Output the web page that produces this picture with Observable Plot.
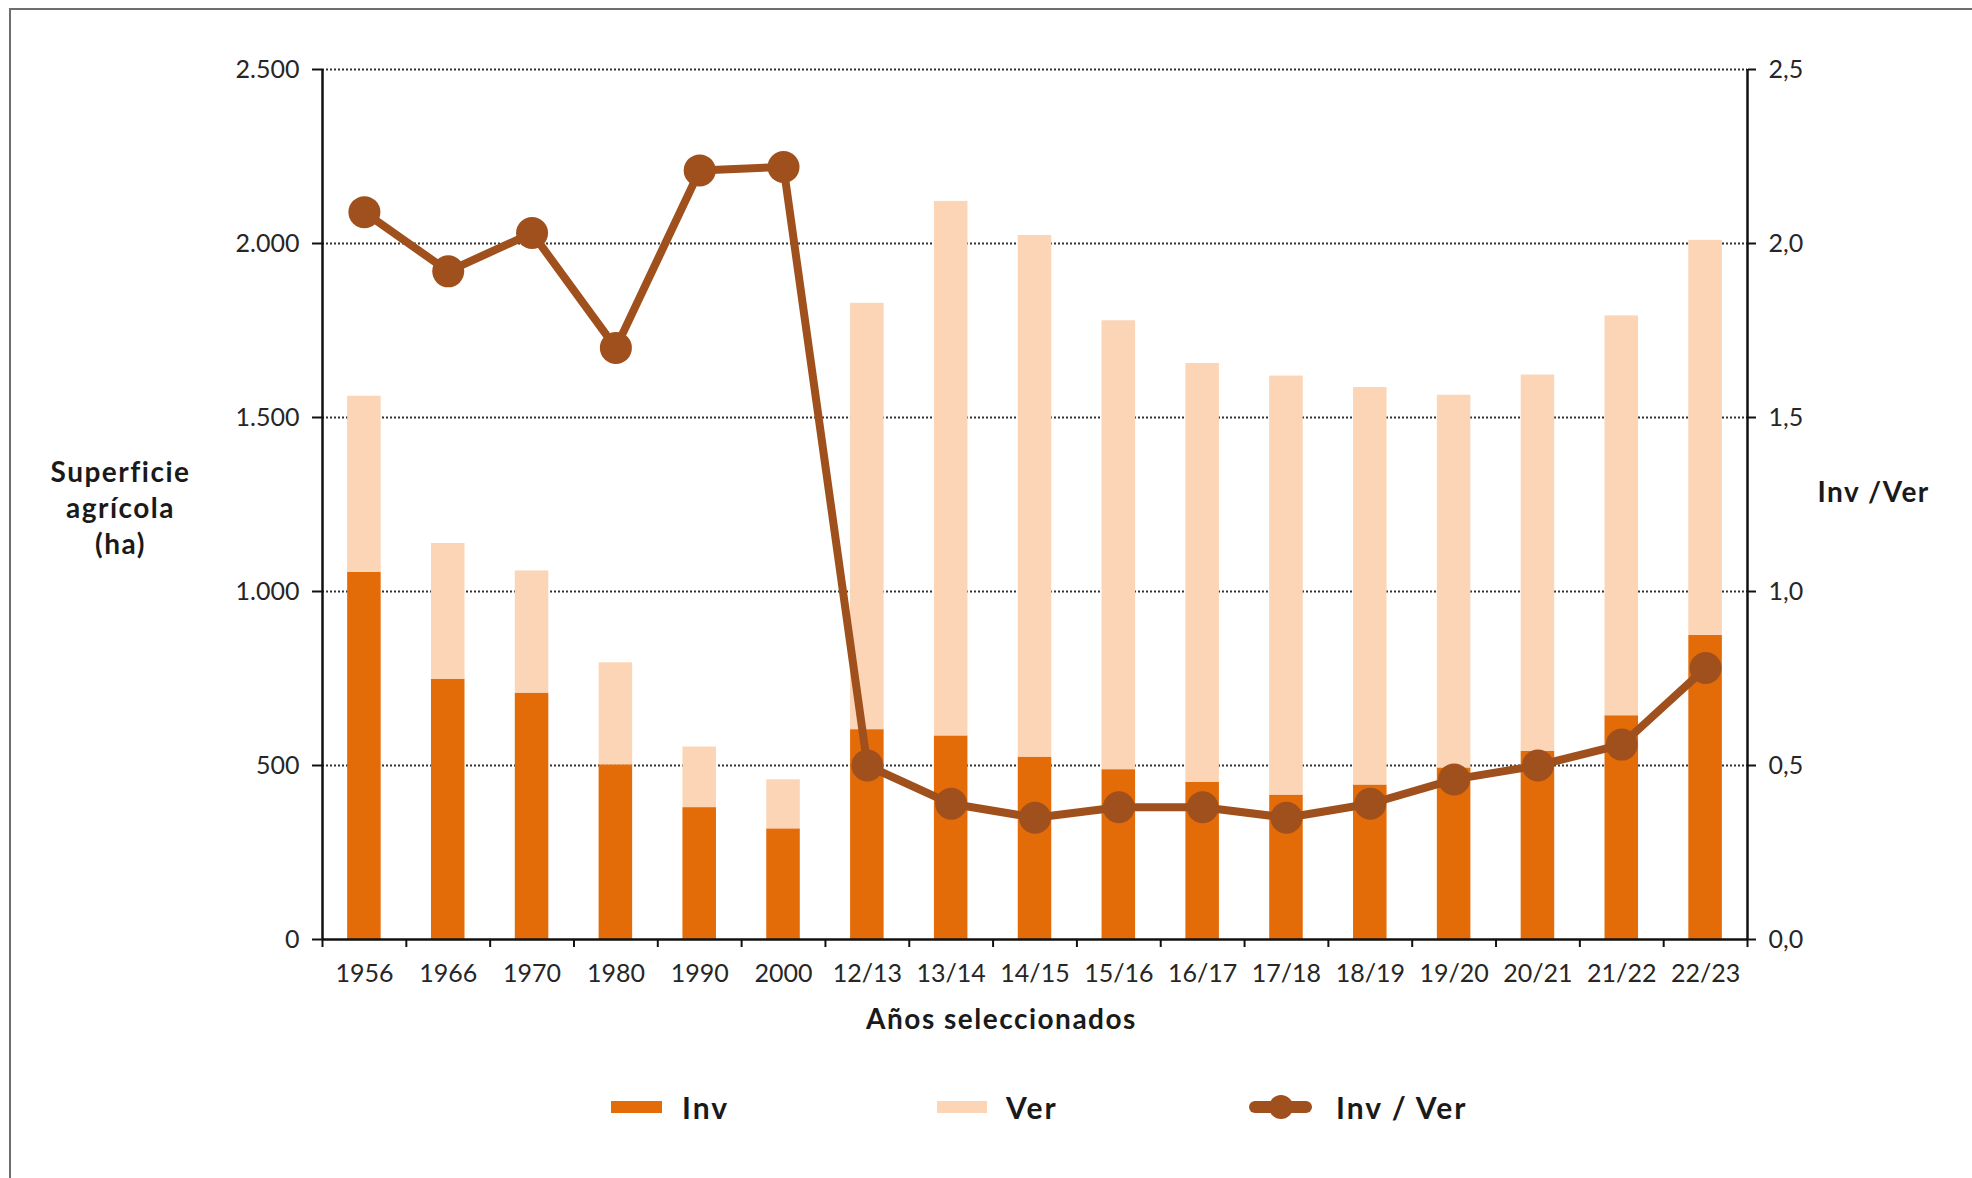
<!DOCTYPE html>
<html>
<head>
<meta charset="utf-8">
<script src="https://cdn.jsdelivr.net/npm/d3@7"></script>
<script src="https://cdn.jsdelivr.net/npm/@observablehq/plot@0.6"></script>
<style>
  html, body { margin: 0; padding: 0; background: #ffffff; }
  #wrap { position: relative; width: 1972px; height: 1178px; overflow: hidden; background: #fff; }
  #border { position: absolute; left: 9px; top: 8px; width: 3000px; height: 3000px;
            border-left: 2px solid #6e6e6e; border-top: 2px solid #6e6e6e; pointer-events: none; }
  #chart svg { display: block; }
  #chart g[aria-label="text"] text { letter-spacing: 1.5px; }
  #legend { position: relative; width: 1972px; height: 108px; font-family: Lato, "Open Sans", sans-serif;
            font-weight: bold; font-size: 30px; letter-spacing: 2px; color: #1a1a1a; }
  .item { position: absolute; top: 19px; height: 36px; line-height: 36px; display: flex; align-items: center; }
  .sw { display: inline-block; height: 12px; }
  .lsw { position: relative; display: inline-block; width: 63px; height: 36px; }
  .lsw .ln { position: absolute; left: 0; right: 0; top: 12px; height: 12px; border-radius: 6px; }
  .lsw .dt { position: absolute; left: 20px; top: 6px; width: 24px; height: 24px; border-radius: 50%; }
</style>
</head>
<body>
<div id="wrap">
  <div id="chart"></div>
  <div id="legend"></div>
  <div id="border"></div>
</div>
<script>
// ---- Data ----
const categories = ["1956","1966","1970","1980","1990","2000","12/13","13/14","14/15","15/16","16/17","17/18","18/19","19/20","20/21","21/22","22/23"];
const invValues = [1055, 748, 708, 502, 379, 318, 603, 585, 524, 488, 452, 415, 444, 493, 541, 643, 874];
const verValues = [506, 390, 351, 293, 174, 141, 1225, 1536, 1499, 1290, 1203, 1204, 1142, 1071, 1081, 1149, 1135];
const ratioValues = [2.09, 1.92, 2.03, 1.70, 2.21, 2.22, 0.50, 0.39, 0.35, 0.38, 0.38, 0.35, 0.39, 0.46, 0.50, 0.56, 0.78];
const leftTicks = [0, 500, 1000, 1500, 2000, 2500];
const rightTicks = [0, 0.5, 1.0, 1.5, 2.0, 2.5];
const seriesNames = ["Inv", "Ver"];
const ratioName = "Inv / Ver";
const yTitle = "Superficie\nagrícola\n(ha)";
const y2Title = "Inv /Ver";
const xTitle = "Años seleccionados";

// ---- Style ----
const INV = "#E36C09", VER = "#FBD5B5", LINE = "#A0501C";
const W = 1972, H = 1070;
const mL = 322, mR = 225, mT = 69, mB = 131;
const plotH = H - mT - mB;
const step = (W - mL - mR) / categories.length;
const RATIO_K = 1000; // ratio axis 0–2.5 mapped onto 0–2500

const stacked = categories.flatMap((c, i) => [
  {cat: c, type: seriesNames[0], value: invValues[i]},
  {cat: c, type: seriesNames[1], value: verValues[i]}
]);
const ratioData = categories.map((c, i) => ({cat: c, ratio: ratioValues[i]}));

const fmtLeft = d => d3.format(",")(d).replace(/,/g, ".");
const fmtRight = d => (d / RATIO_K).toFixed(1).replace(".", ",");
const noText = () => "";
const first = categories[0], last = categories[categories.length - 1];

const chart = Plot.plot({
  width: W, height: H,
  marginLeft: mL, marginRight: mR, marginTop: mT, marginBottom: mB,
  style: {fontFamily: "Lato, 'Open Sans', sans-serif", fontSize: "25px", color: "#262626", background: "transparent"},
  x: {domain: categories, paddingInner: 0.6, paddingOuter: 0.3, round: false, axis: null, label: null},
  y: {domain: [0, 2500], axis: null, label: null},
  color: {domain: seriesNames, range: [INV, VER]},
  marks: [
    Plot.gridY(leftTicks.filter(d => d > 0), {stroke: "#333", strokeOpacity: 1, strokeWidth: 2.2, strokeDasharray: "2,2"}),
    Plot.barY(stacked, {x: "cat", y: "value", fill: "type"}),
    Plot.ruleY([0], {stroke: "#111", strokeWidth: 2.5}),
    // left / right axis lines (long inward ticks at the outer band edges)
    Plot.axisX({ticks: [first], tickSize: -plotH, dx: -step / 2, stroke: "#111", strokeWidth: 2.5, tickFormat: noText, label: null}),
    Plot.axisX({ticks: [last], tickSize: -plotH, dx: step / 2, stroke: "#111", strokeWidth: 2.5, tickFormat: noText, label: null}),
    Plot.axisY({anchor: "left", ticks: leftTicks, tickFormat: fmtLeft, tickSize: 10, tickPadding: 13,
                stroke: "#111", strokeWidth: 2, fill: "#262626", label: null}),
    Plot.axisY({anchor: "right", ticks: rightTicks.map(d => d * RATIO_K), tickFormat: fmtRight, tickSize: 8, tickPadding: 13,
                stroke: "#111", strokeWidth: 2, fill: "#262626", label: null}),
    Plot.axisX({tickSize: 8, dx: -step / 2, stroke: "#111", strokeWidth: 2, tickFormat: noText, label: null}),
    Plot.axisX({ticks: [last], tickSize: 8, dx: step / 2, stroke: "#111", strokeWidth: 2, tickFormat: noText, label: null}),
    Plot.axisX({tickSize: 0, tickPadding: 25, fill: "#262626", label: null}),
    Plot.line(ratioData, {x: "cat", y: d => d.ratio * RATIO_K, stroke: LINE, strokeWidth: 8}),
    Plot.dot(ratioData, {x: "cat", y: d => d.ratio * RATIO_K, r: 16, fill: LINE, stroke: null}),
    Plot.text([yTitle], {frameAnchor: "top-left", dx: 120 - mL, dy: 506 - mT, textAnchor: "middle", lineAnchor: "middle",
                         lineHeight: 1.28, fontSize: 28, fontWeight: "bold", fill: "#1a1a1a"}),
    Plot.text([y2Title], {frameAnchor: "top-right", dx: 70, dy: 493 - mT, textAnchor: "start", lineAnchor: "middle",
                          fontSize: 28, fontWeight: "bold", fill: "#1a1a1a"}),
    Plot.text([xTitle], {frameAnchor: "bottom", dx: 1001 - (mL + (W - mL - mR) / 2), dy: 1020 - (H - mB), lineAnchor: "middle",
                         fontSize: 28, fontWeight: "bold", fill: "#1a1a1a"})
  ]
});
document.getElementById("chart").appendChild(chart);

// ---- Legend ----
const legend = document.getElementById("legend");
function addItem(left, swatchHtml, label, gap) {
  const it = document.createElement("div");
  it.className = "item";
  it.style.left = left + "px";
  it.innerHTML = swatchHtml + `<span style="margin-left:${gap}px">${label}</span>`;
  legend.appendChild(it);
}
addItem(611, `<span class="sw" style="width:51px;background:${INV}"></span>`, seriesNames[0], 20);
addItem(937, `<span class="sw" style="width:50px;background:${VER}"></span>`, seriesNames[1], 19);
addItem(1249, `<span class="lsw"><span class="ln" style="background:${LINE}"></span><span class="dt" style="background:${LINE}"></span></span>`, ratioName, 24);
</script>
</body>
</html>
